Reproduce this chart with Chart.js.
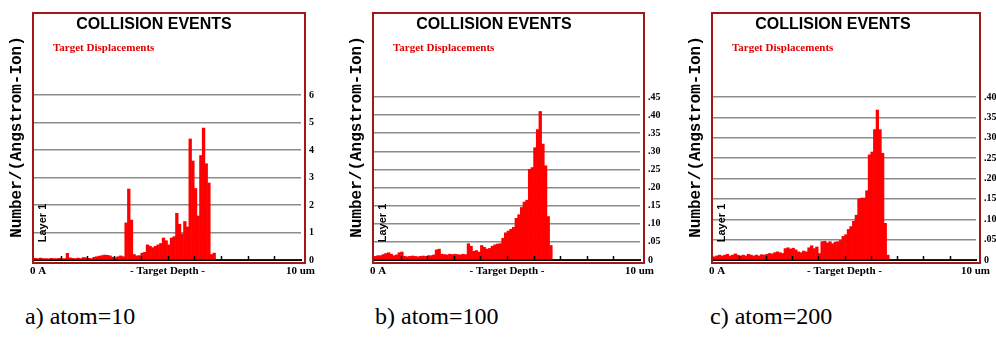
<!DOCTYPE html>
<html>
<head>
<meta charset="utf-8">
<script src="https://cdn.jsdelivr.net/npm/chart.js@4.4.0/dist/chart.umd.min.js"></script>
<style>
	body { margin: 0; background: #fff; width: 996px; height: 338px; overflow: hidden; position: relative; }
	canvas { position: absolute; top: 0; }
	.cap { position: absolute; top: 303px; font-family: "Liberation Serif", "Times New Roman", serif; font-size: 24px; color: #000; white-space: nowrap; }
</style>
</head>
<body>
<canvas id="chartA" width="330" height="280" style="left:0px"></canvas>
<canvas id="chartB" width="330" height="280" style="left:340px"></canvas>
<canvas id="chartC" width="330" height="280" style="left:679px"></canvas>
<div class="cap" style="left:25px">a) atom=10</div>
<div class="cap" style="left:375px">b) atom=100</div>
<div class="cap" style="left:710px">c) atom=200</div>
<script>
// depth bins, 0.1 um each, from 0 A to 10 um
var depthBins = [];
for (var i = 0; i < 100; i++) depthBins.push((i * 0.1).toFixed(1));

// Target displacements per bin
var atom10Values = [
	0.06, 0.05, 0.07, 0.05, 0.05, 0.04, 0.06, 0.05, 0.05, 0.06, 0.04, 0.05,
	0.24, 0.08,
	0.06, 0.05, 0.07, 0.05, 0.09, 0.08, 0.06, 0.05,
	0.1, 0.12, 0.14, 0.16, 0.18, 0.17, 0.15, 0.1, 0.08, 0.12,
	0.15, 0.12,
	1.35, 2.58, 1.45, 0.2,
	0.15, 0.16, 0.25, 0.28,
	0.55, 0.5, 0.45, 0.5, 0.55, 0.6,
	0.8, 0.7, 0.55, 0.8, 0.85,
	1.7, 1.3, 0.95, 1.4, 1.2,
	4.4, 3.6, 2.6, 1.6, 3.8, 4.8, 3.5, 2.8,
	0.2, 0.25,
	0, 0, 0, 0, 0, 0, 0, 0, 0, 0, 0, 0, 0, 0, 0, 0,
	0, 0, 0, 0, 0, 0, 0, 0, 0, 0, 0, 0, 0, 0, 0, 0
];
var atom100Values = [
	0.01, 0.012, 0.012, 0.015, 0.018, 0.02, 0.016, 0.012, 0.014, 0.02, 0.022, 0.01,
	0.009, 0.01, 0.011, 0.01, 0.009, 0.01, 0.011, 0.01, 0.012, 0.012, 0.014,
	0.028, 0.03,
	0.016, 0.015, 0.014, 0.016, 0.015, 0.016, 0.015, 0.014, 0.016, 0.015,
	0.045, 0.038, 0.024, 0.026, 0.022,
	0.04, 0.035, 0.03, 0.032, 0.038, 0.042, 0.044, 0.045,
	0.06, 0.075, 0.08, 0.085, 0.09, 0.115, 0.125, 0.145, 0.16, 0.165,
	0.25, 0.255, 0.31, 0.36, 0.41, 0.32, 0.26, 0.12, 0.04,
	0, 0, 0, 0, 0, 0, 0, 0, 0, 0, 0, 0, 0, 0, 0, 0,
	0, 0, 0, 0, 0, 0, 0, 0, 0, 0, 0, 0, 0, 0, 0, 0, 0
];
var atom200Values = [
	0.008, 0.01, 0.012, 0.01, 0.012, 0.014, 0.01, 0.012, 0.015, 0.012,
	0.01, 0.012, 0.01, 0.014, 0.012, 0.01, 0.012, 0.01, 0.013, 0.012,
	0.014, 0.016, 0.015, 0.018, 0.02, 0.018, 0.016,
	0.028, 0.03, 0.027, 0.029, 0.025,
	0.02, 0.018, 0.022, 0.02,
	0.03, 0.035, 0.028, 0.032,
	0.016,
	0.045, 0.046, 0.042, 0.045, 0.04, 0.044, 0.045,
	0.048, 0.058, 0.062, 0.075, 0.082, 0.095, 0.11, 0.15, 0.152, 0.152,
	0.17, 0.258, 0.265, 0.32, 0.368, 0.32, 0.262, 0.09, 0.012,
	0, 0, 0, 0, 0, 0, 0, 0, 0, 0, 0, 0, 0, 0, 0, 0,
	0, 0, 0, 0, 0, 0, 0, 0, 0, 0, 0, 0, 0, 0, 0, 0, 0
];

// right-hand tick values and their labels
var ticksA = [0, 1, 2, 3, 4, 5, 6];
var tickLabelsA = ['0', '1', '2', '3', '4', '5', '6'];
var ticksB = [0, 0.05, 0.1, 0.15, 0.2, 0.25, 0.3, 0.35, 0.4, 0.45];
var tickLabelsB = ['0', '.05', '.10', '.15', '.20', '.25', '.30', '.35', '.40', '.45'];
var ticksC = [0, 0.05, 0.1, 0.15, 0.2, 0.25, 0.3, 0.35, 0.4];
var tickLabelsC = ['0', '.05', '.10', '.15', '.20', '.25', '.30', '.35', '.40'];

var serif = '"Liberation Serif", "Times New Roman", serif';

// frame, titles and depth labels drawn round the plot area
var framePlugin = {
	id: 'srimFrame',
	afterDraw: function(chart) {
		var ctx = chart.ctx;
		var area = chart.chartArea;
		var left = area.left - 1, right = area.right + 4, top = 13, bottom = 263;
		ctx.save();

		// depth ticks, 10 divisions
		ctx.strokeStyle = '#000';
		ctx.lineWidth = 1.5;
		for (var k = 1; k < 10; k++) {
			var x = Math.round(area.left + (area.right - area.left) * k / 10) + 0.5;
			ctx.beginPath();
			ctx.moveTo(x, area.bottom);
			ctx.lineTo(x, area.bottom - 4);
			ctx.stroke();
		}

		ctx.strokeStyle = '#a01818';
		ctx.lineWidth = 2;
		ctx.strokeRect(left, top, right - left, bottom - top);

		ctx.textBaseline = 'middle';
		ctx.fillStyle = '#000';
		ctx.textAlign = 'center';
		ctx.font = 'bold 16px "Liberation Sans", Arial, sans-serif';
		ctx.fillText('COLLISION EVENTS', left + 121, 25);

		ctx.fillStyle = '#e00000';
		ctx.textAlign = 'left';
		ctx.font = 'bold 11px ' + serif;
		ctx.fillText('Target Displacements', left + 20, 48);

		// depth labels
		ctx.fillStyle = '#000';
		ctx.font = 'bold 11px ' + serif;
		ctx.fillText('0 A', left - 3, 271);
		ctx.textAlign = 'center';
		ctx.fillText('- Target Depth -', (area.left + area.right) / 2, 271);
		ctx.textAlign = 'right';
		ctx.fillText('10 um', right + 10, 271);

		// rotated y label
		ctx.save();
		ctx.translate(left - 16, 137);
		ctx.rotate(-Math.PI / 2);
		ctx.textAlign = 'center';
		ctx.font = 'bold 16px "Liberation Mono", "Courier New", monospace';
		ctx.fillText('Number/(Angstrom-Ion)', 0, 0);
		ctx.restore();

		ctx.save();
		ctx.translate(left + 10, 223);
		ctx.rotate(-Math.PI / 2);
		ctx.textAlign = 'center';
		ctx.font = 'bold 11px "Liberation Sans", Arial, sans-serif';
		ctx.fillText('Layer 1', 0, 0);
		ctx.restore();

		ctx.restore();
	}
};

function makeChart(id, values, yMax, tickValues, tickLabels, plotRight) {
	var ctx = document.getElementById(id).getContext('2d');
	return new Chart(ctx, {
		type: 'bar',
		data: {
			labels: depthBins,
			datasets: [{
				label: 'Target Displacements',
				data: values,
				backgroundColor: '#ff0000',
				borderWidth: 0,
				categoryPercentage: 1,
				barPercentage: 1
			}]
		},
		options: {
			responsive: false,
			animation: false,
			layout: { padding: { left: 34, top: 14, bottom: 0, right: 330 - plotRight - 26 } },
			scales: {
				x: {
					grid: { display: false },
					ticks: { display: false },
					border: { display: true, color: '#000', width: 2 },
					afterFit: function(scale) { scale.height = 20; }
				},
				y: {
					position: 'right',
					min: 0,
					max: yMax,
					z: 1,
					afterBuildTicks: function(scale) {
						scale.ticks = tickValues.map(function(v) { return { value: v }; });
					},
					afterFit: function(scale) { scale.width = 26; },
					grid: {
						color: function(c) { return c.tick && c.tick.value === 0 ? 'rgba(0,0,0,0)' : '#8c8c8c'; },
						lineWidth: 1.5,
						drawTicks: false
					},
					border: { display: false },
					ticks: {
						padding: 8,
						color: '#000',
						font: { family: serif, size: 10, weight: 'bold' },
						callback: function(value) {
							var idx = tickValues.indexOf(value);
							return idx >= 0 ? tickLabels[idx] : '';
						}
					}
				}
			},
			plugins: {
				legend: { display: false },
				tooltip: { enabled: false }
			}
		},
		plugins: [framePlugin]
	});
}

makeChart('chartA', atom10Values, 8.945, ticksA, tickLabelsA, 301);
makeChart('chartB', atom100Values, 0.679, ticksB, tickLabelsB, 300);
makeChart('chartC', atom200Values, 0.6037, ticksC, tickLabelsC, 297);
</script>
</body>
</html>
